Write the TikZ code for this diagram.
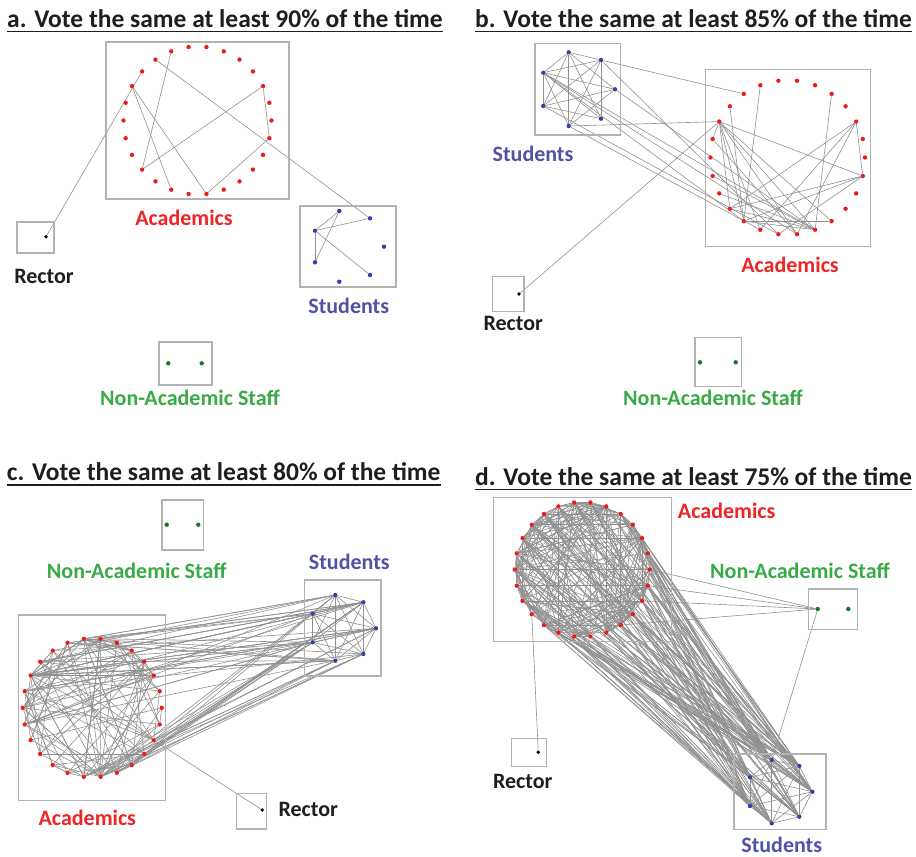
\documentclass[tikz,border=0pt]{standalone}
\usepackage{fontspec}
\setmainfont{Carlito}
\pgfdeclarelayer{edges}
\pgfsetlayers{edges,main}

\definecolor{acadred}{RGB}{238,36,38}
\definecolor{dotred}{RGB}{232,28,30}
\definecolor{studblue}{RGB}{80,82,166}
\definecolor{dotblue}{RGB}{50,64,170}
\definecolor{staffgreen}{RGB}{56,170,70}
\definecolor{dotgreen}{RGB}{20,120,40}
\definecolor{boxgray}{RGB}{178,178,178}
\definecolor{linkgray}{RGB}{145,145,145}
\definecolor{inkdark}{RGB}{30,30,30}

\tikzset{
  grpbox/.style={draw=boxgray, line width=1.4pt},
  vdot/.style={circle, inner sep=0pt, minimum size=4.4pt},
  adot/.style={vdot, fill=dotred},
  sdot/.style={vdot, fill=dotblue},
  ndot/.style={vdot, fill=dotgreen},
  rdot/.style={vdot, fill=black, minimum size=3.8pt},
  link/.style={draw=linkgray, line width=0.6pt},
  grplabel/.style={font=\fontsize{22}{24}\selectfont\bfseries, inner sep=0pt},
  acadlabel/.style={grplabel, text=acadred},
  studlabel/.style={grplabel, text=studblue},
  stafflabel/.style={grplabel, text=staffgreen},
  reclabel/.style={grplabel, text=inkdark},
  paneltitle/.style={font=\fontsize{25.5}{28}\selectfont\bfseries, text=inkdark,
                     inner sep=0pt, anchor=base west},
  uline/.style={draw=inkdark, line width=1.3pt},
}

% ring of 26 academics: prefix, centre x, centre y, radius
\newcommand\acadring[4]{%
  \foreach \k in {0,...,25}{%
    \node[adot] (#1\k) at ({#2+#4*cos(\k*360/26)},{#3-#4*sin(\k*360/26)}) {};
  }}
% seven students: prefix and seven positions
\newcommand\studnodes[8]{%
  \node[sdot] (#11) at (#2) {};
  \node[sdot] (#12) at (#3) {};
  \node[sdot] (#13) at (#4) {};
  \node[sdot] (#14) at (#5) {};
  \node[sdot] (#15) at (#6) {};
  \node[sdot] (#16) at (#7) {};
  \node[sdot] (#17) at (#8) {};
}
% all pairs among seven students
\newcommand\studclique[1]{%
  \foreach \u in {1,...,6}{%
    \pgfmathtruncatemacro\nx{\u+1}%
    \foreach \v in {\nx,...,7}{\draw[link] (#1\u) -- (#1\v);}
  }}
% random links inside a ring: prefix, count
\newcommand\ringlinks[2]{%
  \foreach \n in {1,...,#2}{%
    \pgfmathrandominteger{\ra}{0}{25}%
    \pgfmathrandominteger{\rd}{1}{25}%
    \pgfmathtruncatemacro\rb{mod(\ra+\rd,26)}%
    \draw[link] (#1\ra) -- (#1\rb);
  }}

\begin{document}
\begin{tikzpicture}[x=1pt,y=-1pt]
\useasboundingbox (0,0) rectangle (916,857);
\pgfmathsetseed{4711}

% ---------------- panel a : 90% ----------------
\node[paneltitle] (ta) at (7,27.3) {a. Vote the same at least 90\% of the time};
\draw[uline] ([yshift=-4.4pt]ta.base west) -- ([yshift=-4.4pt]ta.base east);

\draw[grpbox] (106,42) rectangle (289,199);
\acadring{aac}{197.5}{120.5}{74}
\draw[grpbox] (300,206) rectangle (396,287);
\studnodes{ast}{339.3,211}{370,218.3}{384,246.7}{370,275}{339.3,281.7}{315,262.3}{315,230.7}
\draw[grpbox] (17,222) rectangle (54,253);
\node[rdot] (arec) at (46,236.7) {};
\draw[grpbox] (159,342) rectangle (212,385);
\node[ndot] (anas1) at (168.3,363.3) {};
\node[ndot] (anas2) at (201.7,363.3) {};

\node[acadlabel] (alab1) at (184,218) {Academics};
\node[studlabel] (alab2) at (348.7,306) {Students};
\node[reclabel]  (alab3) at (44,276.5) {Rector};
\node[stafflabel] (alab4) at (190,398) {Non-Academic Staff};

\begin{pgfonlayer}{edges}
  \foreach \u/\v in {11/18, 11/20, 8/16, 16/2, 2/25, 25/20}
    \draw[link] (aac\u) -- (aac\v);
  \draw[link] (aac9) -- (ast2);
  \draw[link] (aac10) -- (arec);
  \foreach \u/\v in {7/1, 7/2, 6/1, 6/7, 7/4}
    \draw[link] (ast\u) -- (ast\v);
\end{pgfonlayer}

% ---------------- panel b : 85% ----------------
\node[paneltitle] (tb) at (475,27.3) {b. Vote the same at least 85\% of the time};
\draw[uline] ([yshift=-4.4pt]tb.base west) -- ([yshift=-4.4pt]tb.base east);

\draw[grpbox] (535,43.3) rectangle (620.7,135);
\studnodes{bst}{568.7,52.3}{601,60}{615,89.3}{601,118.7}{568.7,126}{543.3,106}{543.3,72.7}
\draw[grpbox] (705.7,69.3) rectangle (870.7,246.7);
\acadring{bac}{787.7}{157.5}{77.3}
\draw[grpbox] (492.3,276.7) rectangle (524,311.7);
\node[rdot] (brec) at (519,294) {};
\draw[grpbox] (695,337.7) rectangle (741.7,386.7);
\node[ndot] (bnas1) at (700,362.3) {};
\node[ndot] (bnas2) at (735.7,362.3) {};

\node[studlabel] (blab1) at (533,154) {Students};
\node[acadlabel] (blab2) at (790,265) {Academics};
\node[reclabel]  (blab3) at (513.3,323.3) {Rector};
\node[stafflabel] (blab4) at (713,398.3) {Non-Academic Staff};

\begin{pgfonlayer}{edges}
  \foreach \u/\v in {1/2, 1/4, 1/5, 1/6, 1/7, 2/7, 2/6, 2/4, 2/5, 3/7, 3/6,
                     3/5, 4/7, 4/6, 5/7, 6/7, 1/3}
    \draw[link] (bst\u) -- (bst\v);
  \foreach \u/\v in {10/17, 11/12, 11/16, 11/17, 11/18, 11/20, 11/21, 11/22,
                     11/25, 8/17, 4/21, 2/16, 2/18, 2/20, 2/25, 25/16, 25/17,
                     25/19, 15/21, 16/21, 17/21, 14/21, 17/22, 12/20}
    \draw[link] (bac\u) -- (bac\v);
  \foreach \s/\k in {2/9, 2/19, 7/17, 7/20, 7/21, 5/11, 5/18, 3/21, 6/19}
    \draw[link] (bst\s) -- (bac\k);
  \draw[link] (brec) -- (bac11);
\end{pgfonlayer}

% ---------------- panel c : 80% ----------------
\node[paneltitle] (tc) at (6.7,480.7) {c. Vote the same at least 80\% of the time};
\draw[uline] ([yshift=-4.4pt]tc.base west) -- ([yshift=-4.4pt]tc.base east);

\draw[grpbox] (162,500) rectangle (203.7,550);
\node[ndot] (cnas1) at (166.7,524.7) {};
\node[ndot] (cnas2) at (198.3,524.7) {};
\draw[grpbox] (304.3,580) rectangle (381,676);
\studnodes{cst}{335.3,595}{363.3,602.3}{376,628.3}{363.3,654}{335.3,660.7}{312.7,642.3}{312.7,613.7}
\draw[grpbox] (18.3,615) rectangle (165.7,800.7);
\acadring{cac}{92.2}{707.8}{69.5}
\draw[grpbox] (236.7,793.3) rectangle (266.7,829);
\node[rdot] (crec) at (262.3,810) {};

\node[stafflabel] (clab1) at (136.7,570.7) {Non-Academic Staff};
\node[studlabel] (clab2) at (349.3,561.7) {Students};
\node[acadlabel] (clab3) at (87.3,817.7) {Academics};
\node[reclabel]  (clab4) at (308.3,809) {Rector};

\begin{pgfonlayer}{edges}
  \studclique{cst}
  \ringlinks{cac}{85}
  \foreach \v in {3,6,8,10,13,15,17,23,24,25}
    \draw[link] (cac20) -- (cac\v);
  \foreach \v in {2,5,9,14,16,19,21,24}
    \draw[link] (cac11) -- (cac\v);
  \foreach \n in {1,...,65}{%
    \pgfmathrandominteger{\q}{0}{21}%
    \pgfmathtruncatemacro\ra{{6,7,8,9,10,11,12,13,14,11,12,13,11,19,20,21,22,23,24,20,21,22}[\q]}%
    \pgfmathrandominteger{\rb}{1}{7}%
    \draw[link] (cac\ra) -- (cst\rb);
  }
  \draw[link] (crec) -- (cac24);
\end{pgfonlayer}

% ---------------- panel d : 75% ----------------
\node[paneltitle] (td) at (475,485) {d. Vote the same at least 75\% of the time};
\draw[uline] ([yshift=-4.4pt]td.base west) -- ([yshift=-4.4pt]td.base east);

\draw[grpbox] (493.3,497.7) rectangle (671.7,641.7);
\acadring{dac}{582.3}{569.5}{67.5}
\draw[grpbox] (808.3,589) rectangle (857.3,629.3);
\node[ndot] (dnas1) at (817.7,609) {};
\node[ndot] (dnas2) at (848.3,609) {};
\draw[grpbox] (511.7,738.3) rectangle (546.7,766.7);
\node[rdot] (drec) at (538.3,752.3) {};
\draw[grpbox] (734,754) rectangle (826,829.3);
\studnodes{dst}{771.7,760}{799.3,766}{812.3,791.7}{799.3,816.7}{771.7,823.3}{750,806}{750,777.3}

\node[acadlabel] (dlab1) at (726.7,511) {Academics};
\node[stafflabel] (dlab2) at (800,571) {Non-Academic Staff};
\node[reclabel]  (dlab3) at (522.7,781.7) {Rector};
\node[studlabel] (dlab4) at (781.7,845) {Students};

\begin{pgfonlayer}{edges}
  \studclique{dst}
  \ringlinks{dac}{220}
  \foreach \n in {1,...,150}{%
    \pgfmathrandominteger{\ra}{0}{25}%
    \pgfmathrandominteger{\rb}{1}{7}%
    \draw[link] (dac\ra) -- (dst\rb);
  }
  \foreach \k in {0,25,24,22}
    \draw[link] (dnas1) -- (dac\k);
  \draw[link] (dnas1) -- (dst1);
  \draw[link] (drec) -- (dac16);
\end{pgfonlayer}
\end{tikzpicture}
\end{document}
